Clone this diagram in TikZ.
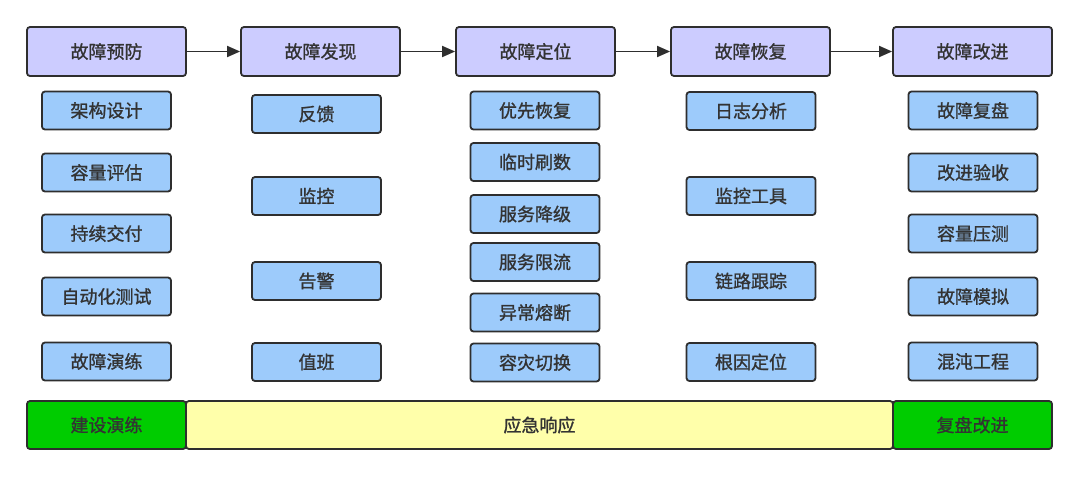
\documentclass[tikz,border=0pt]{standalone}
\usepackage{fontspec}
\setmainfont{Noto Sans CJK SC}[FakeBold=1.2]
\usetikzlibrary{arrows.meta}
\definecolor{hdr}{HTML}{CCCCFF}
\definecolor{sub}{HTML}{9DCBFB}
\definecolor{grn}{HTML}{00CC00}
\definecolor{ylw}{HTML}{FFFFAA}
\definecolor{edge}{HTML}{2E2E2E}
\definecolor{txt}{HTML}{333333}
\tikzset{
  base/.style={draw=edge, line width=1.8pt, rounded corners=3pt, text=txt,
    font=\fontsize{18}{20}\selectfont, inner sep=0pt},
  hdrbox/.style={base, fill=hdr, minimum width=159pt, minimum height=49pt},
  subbox/.style={base, fill=sub, minimum width=129pt, minimum height=38pt},
  barbox/.style={base, minimum height=48pt},
  flow/.style={draw=edge, line width=1.8pt, -{Triangle[length=13pt,width=11pt]}}
}
\begin{document}
\begin{tikzpicture}[x=1pt,y=-1pt]
\useasboundingbox[fill=white] (0,0) rectangle (1080,477);
% headers
\node[hdrbox] (h1) at (106.5,51.5) {故障预防};
\node[hdrbox] (h2) at (320.5,51.5) {故障发现};
\node[hdrbox] (h3) at (535.5,51.5) {故障定位};
\node[hdrbox] (h4) at (750.5,51.5) {故障恢复};
\node[hdrbox] (h5) at (972.5,51.5) {故障改进};
\draw[flow] (h1) -- (h2);
\draw[flow] (h2) -- (h3);
\draw[flow] (h3) -- (h4);
\draw[flow] (h4) -- (h5);
% column 1
\node[subbox] (a1) at (106.5,110.5) {架构设计};
\node[subbox] (a2) at (106.5,172.5) {容量评估};
\node[subbox] (a3) at (106.5,233.5) {持续交付};
\node[subbox] (a4) at (106.5,296.5) {自动化测试};
\node[subbox] (a5) at (106.5,361.5) {故障演练};
% column 2
\node[subbox] (b1) at (316.5,114) {反馈};
\node[subbox] (b2) at (316.5,196) {监控};
\node[subbox] (b3) at (316.5,281) {告警};
\node[subbox] (b4) at (316.5,362) {值班};
% column 3
\node[subbox] (c1) at (535,110.5) {优先恢复};
\node[subbox] (c2) at (535,162) {临时刷数};
\node[subbox] (c3) at (535,214) {服务降级};
\node[subbox] (c4) at (535,262) {服务限流};
\node[subbox] (c5) at (535,312.5) {异常熔断};
\node[subbox] (c6) at (535,362.5) {容灾切换};
% column 4
\node[subbox] (d1) at (751,111) {日志分析};
\node[subbox] (d2) at (751,196) {监控工具};
\node[subbox] (d3) at (751,281) {链路跟踪};
\node[subbox] (d4) at (751,362) {根因定位};
% column 5
\node[subbox] (e1) at (973,110.5) {故障复盘};
\node[subbox] (e2) at (973,172.5) {改进验收};
\node[subbox] (e3) at (973,233.5) {容量压测};
\node[subbox] (e4) at (973,296.5) {故障模拟};
\node[subbox] (e5) at (973,361.5) {混沌工程};
% bottom bar
\node[barbox, fill=ylw, minimum width=707pt] (y1) at (539.5,425) {应急响应};
\node[barbox, fill=grn, minimum width=159pt] (g1) at (106.5,425) {建设演练};
\node[barbox, fill=grn, minimum width=159pt] (g2) at (972.5,425) {复盘改进};
\end{tikzpicture}
\end{document}
